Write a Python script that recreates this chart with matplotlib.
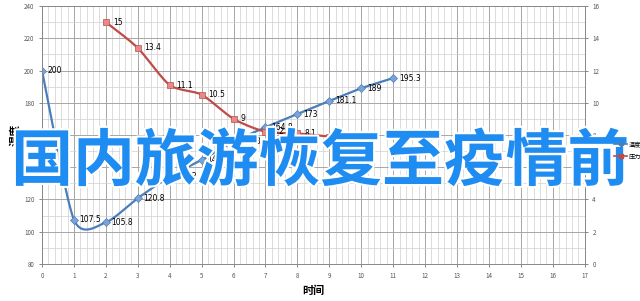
import matplotlib

matplotlib.use("Agg")
import matplotlib.pyplot as plt
import matplotlib.patheffects as pe
import numpy as np
from matplotlib.ticker import MultipleLocator

plt.rcParams["font.family"] = ["Noto Sans CJK SC", "DejaVu Sans"]

# data
temp_x = [0, 1, 2, 3, 4, 5, 6, 7, 8, 9, 10, 11]
temp_y = [200, 107.5, 105.8, 120.8, 134.2, 144.5, 155.8, 164.8, 173, 181.1, 189, 195.3]
temp_labels = ["200", "107.5", "105.8", "120.8", "134.2", "144.5", "155.8",
               "164.8", "173", "181.1", "189", "195.3"]
press_x = [2, 3, 4, 5, 6, 7, 8, 9]
press_y = [15, 13.4, 11.1, 10.5, 9, 8.2, 8.1, 7.9]
press_labels = ["15", "13.4", "11.1", "10.5", "9", "8.2", "8.1", "7.9"]

BLUE = "#4a7ebb"
RED = "#be4b48"


def smooth(x, y, k=8.0, n=30):
    # Catmull-Rom style smoothing, like the spreadsheet "smoothed line"
    x = np.asarray(x, float)
    y = np.asarray(y, float)
    px = np.concatenate([[x[0]], x, [x[-1]]])
    py = np.concatenate([[y[0]], y, [y[-1]]])
    xs, ys = [], []
    t = np.linspace(0, 1, n)
    for i in range(1, len(px) - 2):
        p0 = np.array([px[i], py[i]])
        p3 = np.array([px[i + 1], py[i + 1]])
        p1 = p0 + (p3 - np.array([px[i - 1], py[i - 1]])) / k
        p2 = p3 - (np.array([px[i + 2], py[i + 2]]) - p0) / k
        b = ((1 - t) ** 3)[:, None] * p0 + (3 * (1 - t) ** 2 * t)[:, None] * p1 \
            + (3 * (1 - t) * t ** 2)[:, None] * p2 + (t ** 3)[:, None] * p3
        xs.append(b[:, 0])
        ys.append(b[:, 1])
    return np.concatenate(xs), np.concatenate(ys)


fig = plt.figure(figsize=(6.4, 3.01), dpi=100)
ax = fig.add_axes([0.0656, 0.123, 0.848, 0.857])
ax2 = ax.twinx()

for a in (ax, ax2):
    a.tick_params(labelsize=4.5, colors="#555555", length=2, width=0.5)
    for s in a.spines.values():
        s.set_color("#888888")
        s.set_linewidth(0.6)

ax.set_xlim(0, 17)
ax.set_ylim(80, 240)
ax2.set_ylim(0, 16)
ax.xaxis.set_major_locator(MultipleLocator(1))
ax.xaxis.set_minor_locator(MultipleLocator(0.2))
ax.yaxis.set_major_locator(MultipleLocator(20))
ax.yaxis.set_minor_locator(MultipleLocator(10))
ax2.yaxis.set_major_locator(MultipleLocator(2))
ax.tick_params(which="minor", length=0)
ax.grid(True, which="major", color="#a6a6a6", lw=0.7)
ax.grid(True, which="minor", color="#cfcfcf", lw=0.5)
ax.set_axisbelow(True)

sx, sy = smooth(temp_x, temp_y)
ax.plot(sx, sy, color=BLUE, lw=1.6)
ax.plot(temp_x, temp_y, ls="none", marker="D", ms=4, mfc="#7da3d6",
        mec=BLUE, mew=0.5)
for x, y, s in zip(temp_x, temp_y, temp_labels):
    ax.annotate(s, (x, y), xytext=(4, 0), textcoords="offset points",
                fontsize=5.5, va="center", ha="left", family="DejaVu Sans")

rx, ry = smooth(press_x, press_y)
ax2.plot(rx, ry, color=RED, lw=1.6)
ax2.plot(press_x, press_y, ls="none", marker="s", ms=5, mfc="#e38b89",
         mec=RED, mew=0.5)
for x, y, s in zip(press_x, press_y, press_labels):
    ax2.annotate(s, (x, y), xytext=(5, 0), textcoords="offset points",
                 fontsize=5.5, va="center", ha="left", family="DejaVu Sans")

ax.set_xlabel("时间", fontsize=8, fontweight="bold", labelpad=3)
ax.set_ylabel("温度", fontsize=8, fontweight="bold", labelpad=2)

# legend outside on the right
fig.legend(handles=[
    plt.Line2D([], [], color=BLUE, lw=1.2, marker="D", ms=2.5),
    plt.Line2D([], [], color=RED, lw=1.2, marker="s", ms=2.5)],
    labels=["温度", "压力"], loc="center left", bbox_to_anchor=(0.955, 0.5),
    fontsize=4.5, frameon=False, handlelength=2, borderpad=0,
    handletextpad=0.3, labelspacing=0.6)

# big overlay caption
fig.text(0.5, 0.462, "国内旅游恢复至疫情前", fontsize=44.5, fontweight="bold",
         color="#1e8cf0", ha="center", va="center",
         path_effects=[pe.withStroke(linewidth=3, foreground="white")])

fig.savefig("out.png", dpi=100)
